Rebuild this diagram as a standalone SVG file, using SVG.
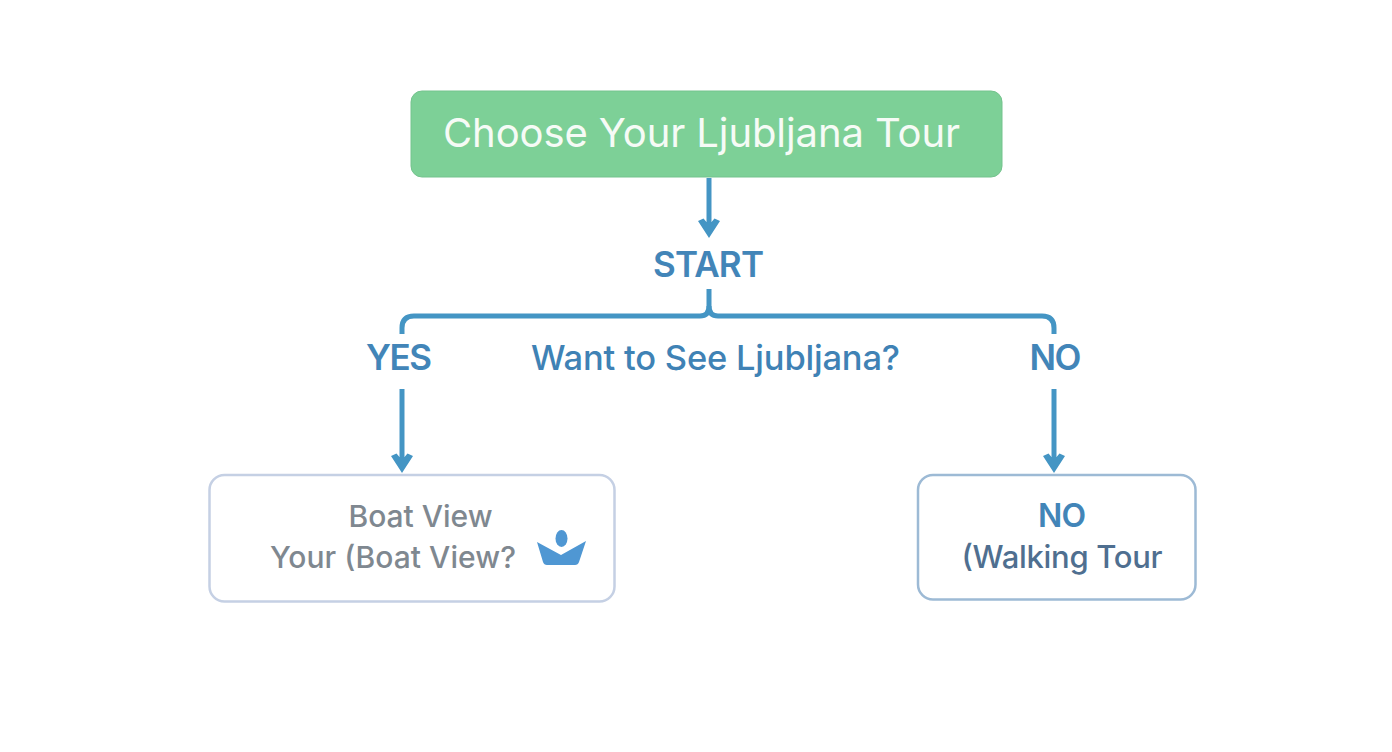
<svg xmlns="http://www.w3.org/2000/svg" width="1392" height="752" viewBox="0 0 1392 752">
<style>
text{font-family:Inter,"Liberation Sans",sans-serif;text-anchor:middle}
.c{fill:none;stroke:#4495c4;stroke-width:5}
.h{fill:#4495c4}
.b{font-weight:600;fill:#4285b8;font-size:35px}
.m{font-weight:500;fill:#3f82b5;font-size:34.500px}
.g{font-weight:500;fill:#7f8890;font-size:30px}
.w{font-weight:500;fill:#4f6f90;font-size:31px}
</style>
<defs><path id="ah" class="h" d="M0 0L-11 -17L-5.500 -19.500L-2.500 -16L2.500 -16L5.500 -19.500L11 -17Z"/></defs>
<rect width="1392" height="752" fill="#fff"/>
<g id="connectors">
<path class="c" d="M709 178V226"/><use href="#ah" x="709" y="238"/>
<path class="c" d="M709 289V306Q709 316 700 316H414Q402 316 402 328V334"/>
<path class="c" d="M709 306Q709 316 718 316H1042Q1054 316 1054 328V334"/>
<path class="c" d="M402 389V462"/><use href="#ah" x="402" y="473"/>
<path class="c" d="M1054 389V462"/><use href="#ah" x="1054" y="473"/>
</g>
<g id="node-title"><rect x="411" y="91" width="591" height="86" rx="11" fill="#7dd097" stroke="#74c38d"/>
<text x="701.500" y="147" font-size="40" font-weight="400" fill="#f6fbf6" textLength="517">Choose Your Ljubljana Tour</text></g>
<g id="node-start"><text class="b" x="708.500" y="277" textLength="111">START</text></g>
<g id="node-yes"><text class="b" x="399" y="370" textLength="66">YES</text></g>
<g id="node-question"><text class="m" x="715.500" y="370" textLength="369">Want to See Ljubljana?</text></g>
<g id="node-no"><text class="b" x="1055.500" y="370" textLength="52">NO</text></g>
<g id="node-boat"><rect x="209.500" y="475" width="405" height="126.500" rx="15" fill="#fff" stroke="#c5d0e4" stroke-width="2.500"/>
<text class="g" x="420.500" y="527" textLength="144">Boat View</text>
<text class="g" x="393" y="568" textLength="246">Your (Boat View?</text>
<ellipse cx="561.500" cy="538.500" rx="6" ry="8.500" fill="#4f97d3"/>
<path d="M537 542L561 555L586 541L579 562Q578 565 575 565H547Q544 565 543 562Z" fill="#4f97d3"/></g>
<g id="node-walking"><rect x="918" y="475" width="277.500" height="124.500" rx="15" fill="#fff" stroke="#9dbad5" stroke-width="2.500"/>
<text class="b" x="1062" y="527" style="font-size:32px" textLength="48">NO</text>
<text class="w" x="1062" y="568" textLength="201">(Walking Tour</text></g>
</svg>
